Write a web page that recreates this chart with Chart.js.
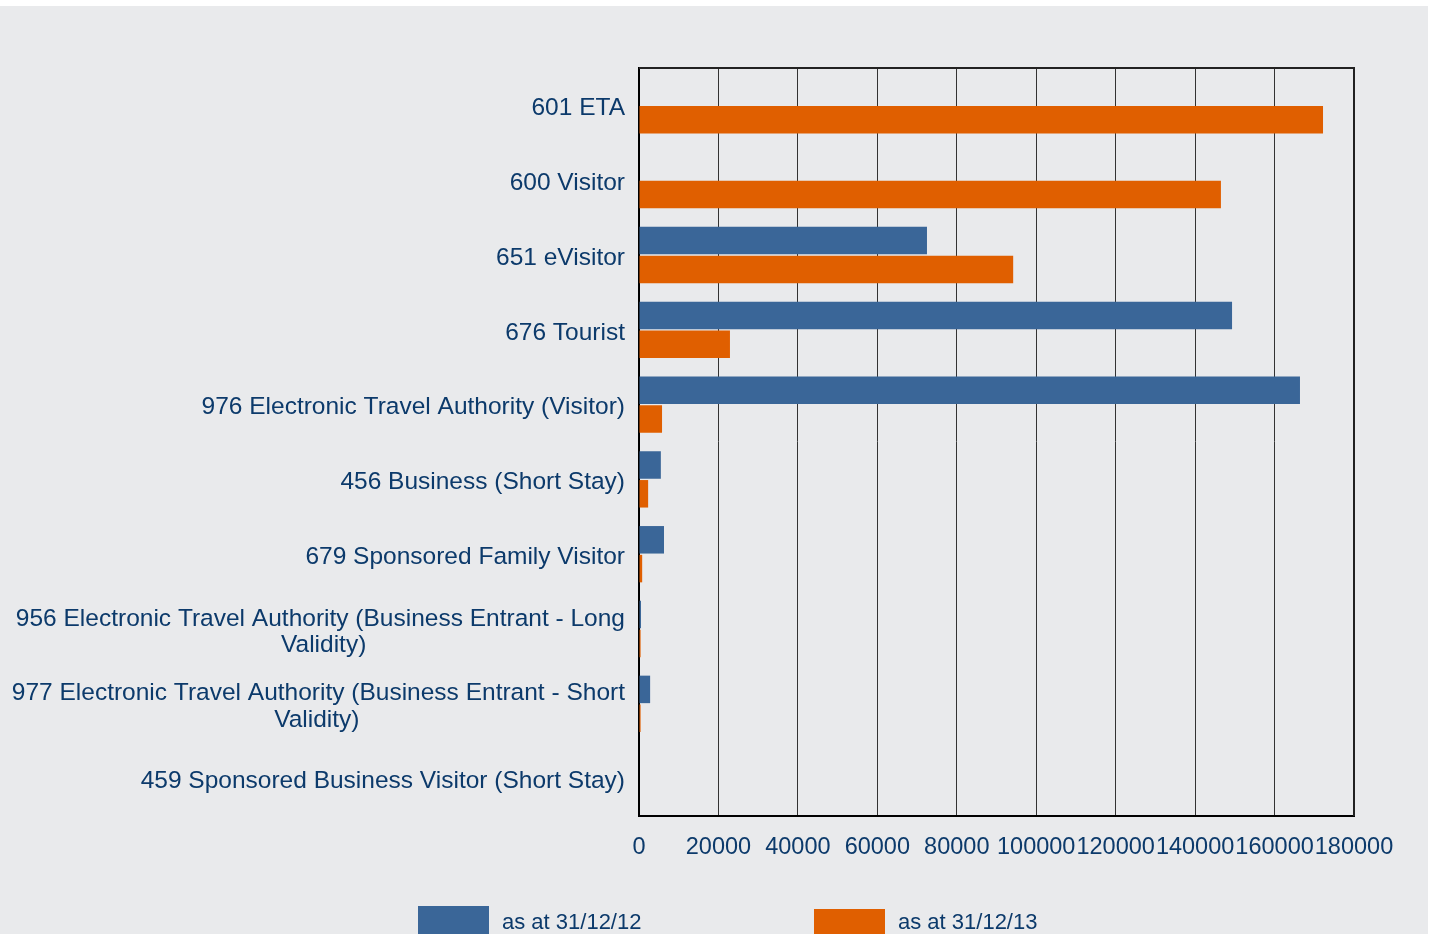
<!DOCTYPE html>
<html>
<head>
<meta charset="utf-8">
<script src="https://cdn.jsdelivr.net/npm/chart.js@4"></script>
<style>
  html, body { margin: 0; padding: 0; background: #ffffff; }
  .wrap { position: absolute; left: 0; top: 6px; width: 1428px; height: 928px; background: #e9eaec; }
  canvas { display: block; }
</style>
</head>
<body>
<div class="wrap"><canvas id="visaChart" width="1428" height="928"></canvas></div>
<script>
const categories = [
  "601 ETA",
  "600 Visitor",
  "651 eVisitor",
  "676 Tourist",
  "976 Electronic Travel Authority (Visitor)",
  "456 Business (Short Stay)",
  "679 Sponsored Family Visitor",
  ["956 Electronic Travel Authority (Business Entrant - Long", "Validity)"],
  ["977 Electronic Travel Authority (Business Entrant - Short", "Validity)"],
  "459 Sponsored Business Visitor (Short Stay)"
];
const as2012 = [0, 0, 72500, 149300, 166400, 5500, 6300, 500, 2800, 0];
const as2013 = [172200, 146500, 94200, 22900, 5800, 2300, 800, 400, 400, 0];
const seriesNames = ["as at 31/12/12", "as at 31/12/13"];
const xTicks = [0, 20000, 40000, 60000, 80000, 100000, 120000, 140000, 160000, 180000];

const textColor = '#0c3a6b';
const fontFamily = '"Liberation Sans", Arial, sans-serif';
const labelSize = 24.5;

// pad short lines of a multi-line label so the lines look centred under each other
const measureCtx = document.createElement('canvas').getContext('2d');
measureCtx.font = labelSize + 'px ' + fontFamily;
function centreLines(lines) {
  const widest = Math.max(...lines.map(l => measureCtx.measureText(l).width));
  const space = measureCtx.measureText(' ').width;
  return lines.map(l => {
    const w = measureCtx.measureText(l).width;
    const n = Math.round((widest - w) / 2 / space);
    return l + ' '.repeat(n);
  });
}

const frameAndLegend = {
  id: 'frameAndLegend',
  afterDraw(chart) {
    const ctx = chart.ctx;
    const a = chart.chartArea;
    ctx.save();
    ctx.strokeStyle = '#222222';
    ctx.lineWidth = 2;
    ctx.beginPath();
    ctx.moveTo(a.left, a.top);
    ctx.lineTo(a.right, a.top);
    ctx.lineTo(a.right, a.bottom);
    ctx.stroke();

    // legend
    const boxX = [418, 814];
    const boxY = [900, 903];
    ctx.font = '22px ' + fontFamily;
    ctx.textBaseline = 'middle';
    chart.data.datasets.forEach((ds, i) => {
      ctx.fillStyle = ds.backgroundColor;
      ctx.fillRect(boxX[i], boxY[i], 71, 40);
      ctx.fillStyle = textColor;
      ctx.fillText(ds.label, boxX[i] + 84, 917);
    });
    ctx.restore();
  }
};

const ctx = document.getElementById('visaChart').getContext('2d');
new Chart(ctx, {
  type: 'bar',
  data: {
    labels: categories,
    datasets: [
      { label: seriesNames[0], data: as2012, backgroundColor: '#3a6698' },
      { label: seriesNames[1], data: as2013, backgroundColor: '#e05f00' }
    ]
  },
  options: {
    indexAxis: 'y',
    responsive: false,
    animation: false,
    categoryPercentage: 0.77,
    barPercentage: 0.955,
    layout: { padding: { left: 0, right: 74, top: 62, bottom: 58 } },
    plugins: {
      legend: { display: false },
      tooltip: { enabled: false }
    },
    scales: {
      x: {
        min: 0,
        max: 180000,
        afterBuildTicks: (scale) => { scale.ticks = xTicks.map(v => ({ value: v })); },
        afterFit: (scale) => { scale.height = 60; },
        grid: { color: '#333333', lineWidth: 1, drawTicks: false },
        border: { color: '#000000', width: 2 },
        ticks: {
          color: textColor,
          font: { family: fontFamily, size: 23.5 },
          padding: 17,
          maxRotation: 0,
          autoSkip: false,
          callback: (value) => String(value)
        }
      },
      y: {
        afterFit: (scale) => { scale.width = 639; },
        grid: { display: false, drawTicks: false },
        border: { color: '#000000', width: 2 },
        ticks: {
          color: textColor,
          font: { family: fontFamily, size: labelSize, lineHeight: 1.07 },
          padding: 14,
          labelOffset: 3,
          autoSkip: false,
          callback: function(value) {
            const lab = this.getLabelForValue(value);
            return Array.isArray(lab) ? centreLines(lab) : lab;
          }
        }
      }
    }
  },
  plugins: [frameAndLegend]
});
</script>
</body>
</html>
